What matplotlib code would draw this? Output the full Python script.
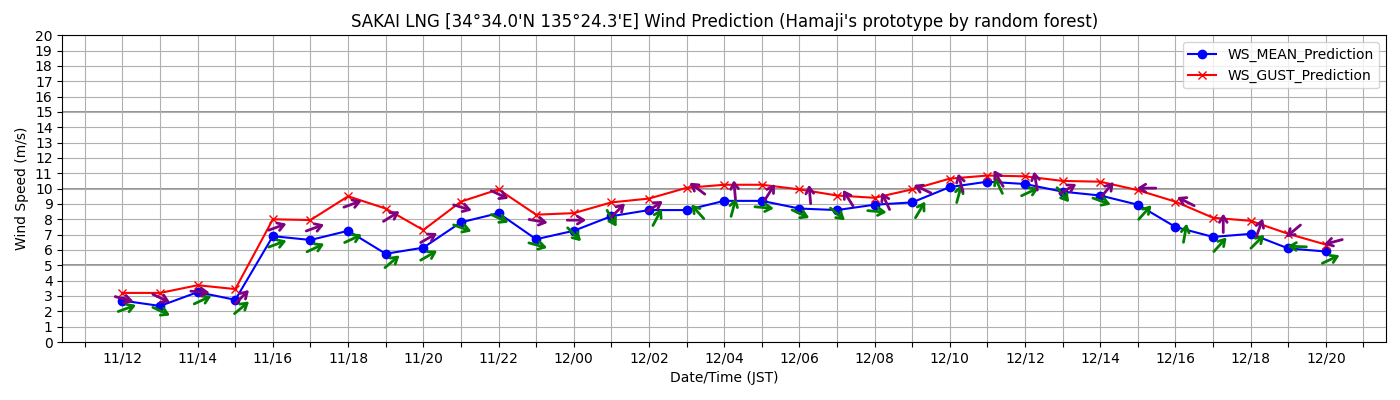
import numpy as np
import pandas as pd
import matplotlib
matplotlib.use("Agg")
import matplotlib.pyplot as plt
import matplotlib.dates as mdates
from matplotlib.transforms import offset_copy

# hourly prediction, day 11 12:00 -> day 12 20:00
times = pd.date_range("2023-12-11 12:00", periods=33, freq="h")

ws_mean = [2.7, 2.35, 3.25, 2.75, 6.9, 6.65, 7.25, 5.75, 6.15, 7.8, 8.4, 6.7, 7.25,
           8.2, 8.6, 8.6, 9.2, 9.2, 8.7, 8.6, 8.95, 9.1, 10.1, 10.45, 10.3, 9.8,
           9.55, 8.95, 7.5, 6.85, 7.05, 6.1, 5.9]
ws_gust = [3.2, 3.2, 3.7, 3.45, 8.0, 7.95, 9.5, 8.7, 7.3, 9.15, 9.95, 8.3, 8.4,
           9.1, 9.35, 10.05, 10.25, 10.25, 9.95, 9.55, 9.4, 9.95, 10.65, 10.85,
           10.8, 10.5, 10.45, 9.9, 9.15, 8.1, 7.9, 7.05, 6.35]

# arrow direction on screen (deg, 0 = pointing right, ccw)
mean_dir = [20, -25, 25, 40, 20, 25, 25, 40, 30, -20, -25, -15, -45, -60, 62, 132,
            75, -5, -25, -40, -5, 59, 75, 115, 25, -50, -20, 48, 80, 48, 45, 178, 25]
gust_dir = [-15, -25, -5, 45, 20, 20, 20, 32, 30, -17, -25, -10, 0, 45, 34, 143,
            95, 58, 95, 122, 115, 155, 105, 120, 100, 30, 50, 180, 153, 90, 70, 220, 195]

fig = plt.figure(figsize=(14, 4), dpi=100)
ax = fig.add_axes([0.0445, 0.145, 0.9455, 0.767])

ax.plot(times, ws_mean, "o-", color="blue", label="WS_MEAN_Prediction")
ax.plot(times, ws_gust, "x-", color="red", label="WS_GUST_Prediction")


def draw_arrows(xs, ys, dirs, color):
    L = 19.0
    for x, y, d in zip(xs, ys, dirs):
        t = np.deg2rad(d)
        c, s = np.cos(t), np.sin(t)
        # centre shift, rotated with the arrow
        ox = 5.75 + (-2.75 * c + 4.5 * s)
        oy = -2.5 + (-2.75 * s - 4.5 * c)
        hx, hy = ox + c * L / 2, oy + s * L / 2
        tx, ty = ox - c * L / 2, oy - s * L / 2
        tr_h = offset_copy(ax.transData, fig=fig, x=hx, y=hy, units="dots")
        tr_t = offset_copy(ax.transData, fig=fig, x=tx, y=ty, units="dots")
        ax.annotate("", xy=(x, y), xycoords=tr_h, xytext=(x, y), textcoords=tr_t,
                    arrowprops=dict(arrowstyle="->,head_length=0.45,head_width=0.28",
                                    color=color, lw=2, shrinkA=0, shrinkB=0))


xnum = mdates.date2num(times)
draw_arrows(xnum, ws_mean, mean_dir, "green")
draw_arrows(xnum, ws_gust, gust_dir, "purple")

ax.set_ylim(0, 20)
ax.set_yticks(range(0, 21))
for h in (5, 10, 15):
    ax.axhline(h, color="gray", lw=1.2, zorder=1)

ax.xaxis.set_major_locator(mdates.HourLocator(byhour=range(0, 24, 2)))
ax.xaxis.set_minor_locator(mdates.HourLocator(byhour=range(1, 24, 2)))
ax.xaxis.set_major_formatter(mdates.DateFormatter("%d/%H"))
ax.tick_params(axis="x", which="minor", length=3.5, width=0.8)
ax.grid(True, which="both")

ax.set_xlabel("Date/Time (JST)")
ax.set_ylabel("Wind Speed (m/s)")
ax.set_title("SAKAI LNG [34°34.0'N 135°24.3'E] Wind Prediction (Hamaji's prototype by random forest)")
ax.legend(loc="upper right")

fig.savefig("out.png", dpi=100)
